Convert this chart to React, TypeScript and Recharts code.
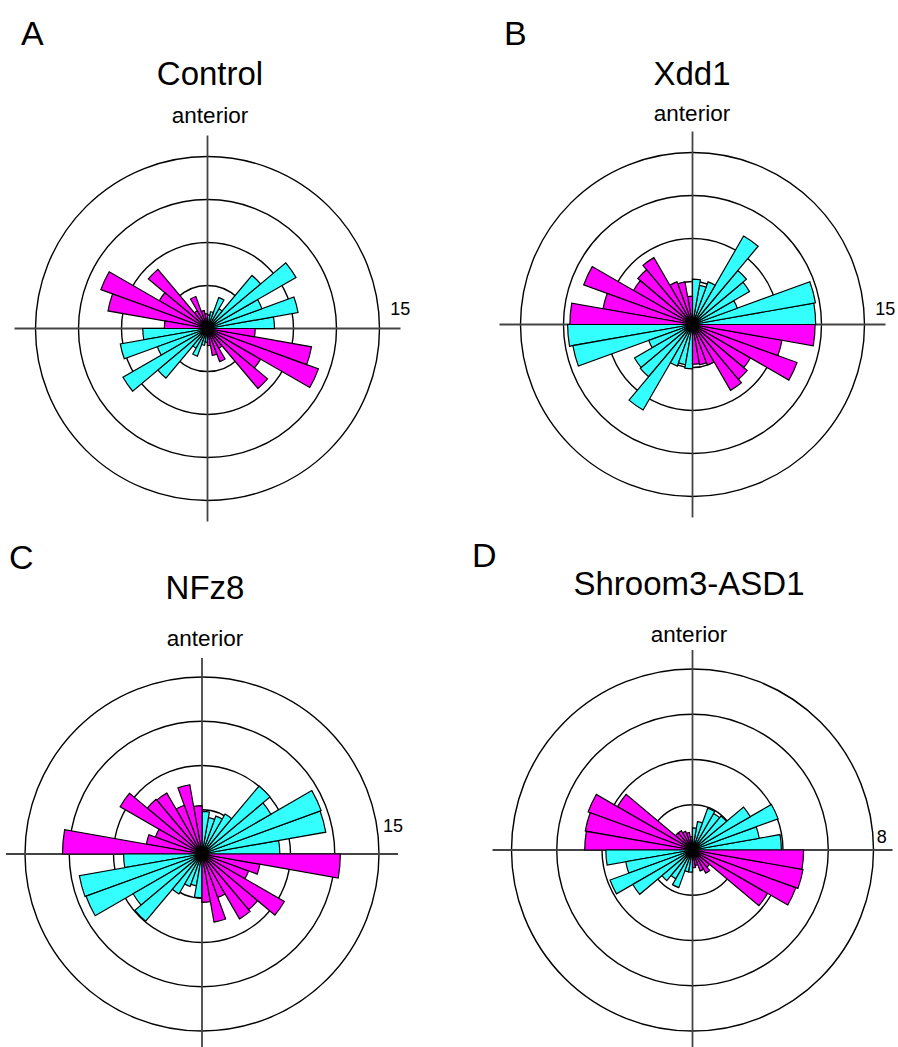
import React from 'react';
import { RadialBarChart, RadialBar, PolarGrid, PolarAngleAxis, PolarRadiusAxis, Cell } from 'recharts';

// 10 degree bins, counted counter-clockwise from the right-hand axis
const bins = [
  0, 10, 20, 30, 40, 50, 60, 70, 80,
  90, 100, 110, 120, 130, 140, 150, 160, 170,
  180, 190, 200, 210, 220, 230, 240, 250, 260,
  270, 280, 290, 300, 310, 320, 330, 340, 350,
];

const controlCounts = [
  5.9, 8.1, 5.1, 9.0, 6.1, 2.0, 2.9, 1.5, 1.2,
  1.3, 1.6, 3.0, 1.8, 6.8, 4.9, 10.0, 8.9, 3.8,
  5.7, 7.8, 4.7, 8.6, 5.7, 2.0, 2.6, 1.5, 1.2,
  1.5, 2.4, 3.1, 2.0, 6.9, 5.4, 10.4, 9.3, 4.2,
];

const xdd1Counts = [
  10.85, 11.0, 4.2, 5.8, 6.2, 9.0, 4.0, 3.5, 4.0,
  2.5, 3.8, 4.0, 6.8, 6.3, 6.0, 10.2, 8.0, 10.8,
  11.0, 10.7, 4.1, 5.9, 6.0, 8.7, 3.9, 3.6, 3.9,
  3.5, 3.6, 3.8, 6.7, 6.3, 5.9, 9.8, 8.0, 10.8,
];

const nfz8Counts = [
  6.75, 10.9, 11.0, 6.9, 7.7, 4.0, 3.5, 3.2, 3.7,
  4.2, 6.1, 4.5, 6.1, 6.2, 8.2, 4.3, 4.9, 12.1,
  6.8, 10.8, 10.7, 6.9, 7.6, 4.0, 3.0, 2.8, 3.8,
  4.2, 6.0, 4.0, 6.5, 6.3, 8.25, 4.3, 5.1, 12.0,
];

const shroomCounts = [
  4.0, 3.05, 4.1, 3.0, 2.0, 1.9, 2.0, 1.3, 1.0,
  0.6, 0.8, 0.9, 1.0, 1.0, 3.9, 5.0, 4.9, 4.85,
  3.9, 3.05, 3.95, 3.1, 1.8, 1.5, 1.8, 1.0, 1.0,
  0.8, 0.7, 1.0, 1.2, 1.0, 3.9, 4.95, 5.05, 5.0,
];

const panelLetters = ['A', 'B', 'C', 'D'];
const panelTitles = ['Control', 'Xdd1', 'NFz8', 'Shroom3-ASD1'];
const scaleMax = [15, 15, 15, 8];
const panelCounts = [controlCounts, xdd1Counts, nfz8Counts, shroomCounts];

// placement of each panel on the page (pixels)
const geometry = [
  { left: 0, top: 0, cx: 207.5, cy: 328.5, ring: 172, reach: 193, labelDx: 12.5, labelDy: 13.5, letterX: 21, letterY: 45, titleX: 210, titleY: 85, antY: 123 },
  { left: 449, top: 0, cx: 243.5, cy: 324.5, ring: 172, reach: 193, labelDx: 12.5, labelDy: 9.5, letterX: 504, letterY: 45, titleX: 692, titleY: 85, antY: 121 },
  { left: 0, top: 523, cx: 202, cy: 331, ring: 177, reach: 196, labelDx: 8, labelDy: 22, letterX: 9, letterY: 569, titleX: 205, titleY: 599, antY: 646 },
  { left: 449, top: 523, cx: 243.5, cy: 327, ring: 181, reach: 200, labelDx: 6.5, labelDy: 7, letterX: 472, letterY: 567, titleX: 689, titleY: 595, antY: 642 },
];

const FONT = '"Liberation Sans", Arial, Helvetica, sans-serif';
const CYAN = '#33ffff';
const MAGENTA = '#ff00ff';

const binColor = (bin: number) => (Math.floor(bin / 90) % 2 === 0 ? CYAN : MAGENTA);

function RosePanel({ counts, max, geo }: { counts: number[]; max: number; geo: any }) {
  const data = bins.map((b, i) => ({ bin: b, count: counts[i] }));
  const extent = (max * geo.reach) / geo.ring;
  const rings = [1, 2, 3, 4].map(k => (geo.ring * k) / 4);

  const renderTick = (props: any) => {
    const { x, y, payload } = props;
    return (
      <text x={x + geo.labelDx} y={y - geo.labelDy} fontSize={18} fontFamily={FONT} fill="#000">
        {payload.value}
      </text>
    );
  };

  // the angle axis puts each band one step before its tick, so start one bin later
  return (
    <div style={{ position: 'absolute', left: geo.left, top: geo.top }}>
      <RadialBarChart
        width={449}
        height={524}
        data={data}
        layout="centric"
        cx={geo.cx}
        cy={geo.cy}
        innerRadius={0}
        outerRadius={geo.reach}
        startAngle={10}
        endAngle={370}
        barCategoryGap={0}
        barGap={0}
        margin={{ top: 0, right: 0, bottom: 0, left: 0 }}
      >
        <PolarGrid gridType="circle" radialLines={false} polarRadius={rings} polarAngles={[]} stroke="#000" strokeWidth={1.4} />
        <PolarGrid gridType="circle" polarRadius={[]} polarAngles={[0, 90, 180, 270]} stroke="#444" strokeWidth={1.8} />
        <PolarAngleAxis type="category" dataKey="bin" tick={false} axisLine={false} tickLine={false} />
        <PolarRadiusAxis type="number" angle={0} domain={[0, extent]} ticks={[max]} axisLine={false} tickLine={false} tick={renderTick} />
        <RadialBar dataKey="count" isAnimationActive={false} stroke="#000" strokeWidth={1.2}>
          {data.map(d => (
            <Cell key={d.bin} fill={binColor(d.bin)} />
          ))}
        </RadialBar>
      </RadialBarChart>
    </div>
  );
}

export default function App() {
  return (
    <div style={{ position: 'absolute', left: 0, top: 0, width: 898, height: 1047, background: '#fff', overflow: 'hidden' }}>
      {geometry.map((geo, i) => (
        <RosePanel key={i} counts={panelCounts[i]} max={scaleMax[i]} geo={geo} />
      ))}
      <svg width={898} height={1047} style={{ position: 'absolute', left: 0, top: 0, pointerEvents: 'none' }}>
        {geometry.map((geo, i) => (
          <g key={i} fontFamily={FONT} fill="#000">
            <text x={geo.letterX} y={geo.letterY} fontSize={34}>{panelLetters[i]}</text>
            <text x={geo.titleX} y={geo.titleY} fontSize={33} textAnchor="middle">{panelTitles[i]}</text>
            <text x={geo.titleX} y={geo.antY} fontSize={22.5} textAnchor="middle">anterior</text>
          </g>
        ))}
      </svg>
    </div>
  );
}
